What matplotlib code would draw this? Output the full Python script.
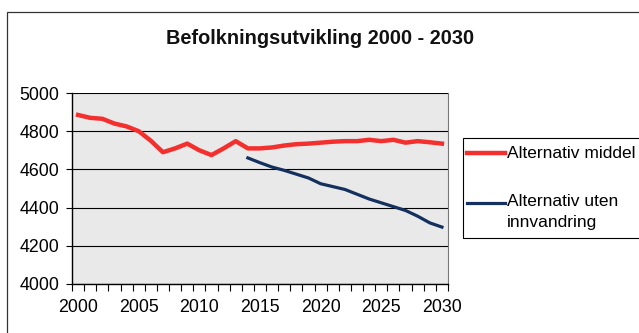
import numpy as np
import matplotlib.pyplot as plt
from matplotlib.lines import Line2D
from matplotlib.patches import Rectangle

plt.rcParams['font.family'] = ['Liberation Sans', 'DejaVu Sans']

# Data (lest av figuren)
years = list(range(2000, 2031))
middel = [4885, 4870, 4865, 4840, 4825, 4800, 4750, 4690, 4710, 4735,
          4700, 4675, 4710, 4748, 4710, 4710, 4715, 4725, 4732, 4735,
          4740, 4745, 4748, 4748, 4755, 4748, 4755, 4740, 4748, 4742, 4735]
uten_years = list(range(2014, 2031))
uten = [4660, 4635, 4612, 4595, 4575, 4555, 4525, 4510, 4495, 4470,
        4445, 4425, 4405, 4385, 4355, 4320, 4298]
label_years = [2000, 2005, 2010, 2015, 2020, 2025, 2030]
yticks = [4000, 4200, 4400, 4600, 4800, 5000]

red = '#f4302f'
navy = '#13305e'

W, H = 639, 333
fig = plt.figure(figsize=(W / 100, H / 100), dpi=100)
ax = fig.add_axes([72 / W, 1 - 284 / H, (448 - 72) / W, (284 - 93) / H])
ax.set_facecolor('#e9e9e9')

ax.plot(years, middel, color=red, lw=3.2, solid_joinstyle='round', zorder=3)
ax.plot(uten_years, uten, color=navy, lw=2.3, solid_joinstyle='round', zorder=3)

ax.set_xlim(1999.5, 2030.5)
ax.set_ylim(4000, 5000)
ax.set_yticks(yticks)
ax.set_xticks(label_years)
ax.set_xticks(np.arange(1999.5, 2031, 1.0), minor=True)
ax.tick_params(axis='x', which='major', length=0, pad=11, labelsize=12.8)
ax.tick_params(axis='x', which='minor', length=5, width=0.8, direction='out')
ax.tick_params(axis='y', length=4, width=0.8, direction='out', pad=5, labelsize=12.8)
ax.grid(axis='y', color='black', lw=0.8)
ax.set_axisbelow(True)

for s in ['left', 'bottom']:
    ax.spines[s].set_color('black')
    ax.spines[s].set_linewidth(1.0)
ax.spines['top'].set_visible(False)
ax.spines['right'].set_color('#777777')
ax.spines['right'].set_linewidth(0.8)

# Tittel
fig.text(320 / W, 1 - 39 / H, 'Befolkningsutvikling 2000 - 2030',
         ha='center', va='center', fontsize=14.3, fontweight='bold', color='#111111')

# Ramme rundt diagrammet
fig.add_artist(Rectangle((7 / W, -0.1), 1.2, 1 - 12 / H + 0.1, transform=fig.transFigure,
                         fill=False, edgecolor='#333333', lw=0.9))

# Forklaring
fig.add_artist(Rectangle((463 / W, 1 - 238 / H), (645 - 463) / W, 100 / H,
                         transform=fig.transFigure, fill=False, edgecolor='black', lw=0.8))
fig.add_artist(Line2D([467 / W, 505 / W], [1 - 153 / H] * 2, transform=fig.transFigure,
                      color=red, lw=3.2))
fig.add_artist(Line2D([467 / W, 505 / W], [1 - 203 / H] * 2, transform=fig.transFigure,
                      color=navy, lw=2.3))
fig.text(507 / W, 1 - 153 / H, 'Alternativ middel', ha='left', va='center', fontsize=12.5)
fig.text(507 / W, 1 - 202 / H, 'Alternativ uten', ha='left', va='center', fontsize=12.5)
fig.text(507 / W, 1 - 222 / H, 'innvandring', ha='left', va='center', fontsize=12.5)

fig.savefig('out.png', dpi=100)
